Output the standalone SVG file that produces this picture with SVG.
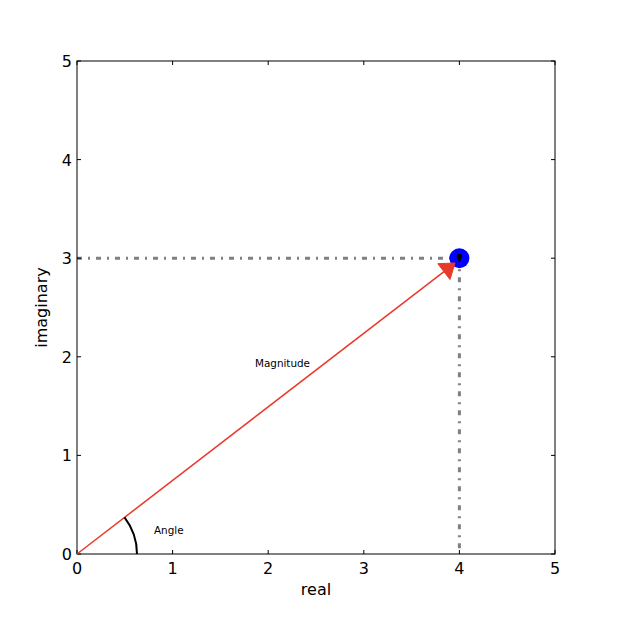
<svg xmlns="http://www.w3.org/2000/svg" width="617" height="617" viewBox="0 0 617 617">
<style>
  .tick { stroke:#000; stroke-width:1; fill:none; }
  .tl { font-family:"DejaVu Sans", sans-serif; font-size:16px; fill:#000; }
  .small { font-family:"DejaVu Sans", sans-serif; font-size:10.4px; fill:#000; }
  .guide { stroke:#808080; stroke-width:3; stroke-dasharray:5 6 2 6; fill:none; }
</style>
<rect x="0" y="0" width="617" height="617" fill="#fff"/>
<g id="guides">
  <line class="guide" x1="77" y1="258.2" x2="459.4" y2="258.2"/>
  <line class="guide" x1="459.4" y1="258.2" x2="459.4" y2="554"/>
</g>
<g id="axes">
  <rect x="77" y="61" width="478" height="493" fill="none" stroke="#000" stroke-width="1"/>
  <path class="tick" d="M77,554v-4 M172.6,554v-4 M268.2,554v-4 M363.8,554v-4 M459.4,554v-4 M555,554v-4
    M77,61v4 M172.6,61v4 M268.2,61v4 M363.8,61v4 M459.4,61v4 M555,61v4
    M77,554h4 M77,455.4h4 M77,356.8h4 M77,258.2h4 M77,159.6h4 M77,61h4
    M555,554h-4 M555,455.4h-4 M555,356.8h-4 M555,258.2h-4 M555,159.6h-4 M555,61h-4"/>
  <g class="tl" text-anchor="middle">
    <text x="77" y="573.5">0</text>
    <text x="172.6" y="573.5">1</text>
    <text x="268.2" y="573.5">2</text>
    <text x="363.8" y="573.5">3</text>
    <text x="459.4" y="573.5">4</text>
    <text x="555" y="573.5">5</text>
  </g>
  <g class="tl" text-anchor="end">
    <text x="72" y="560">0</text>
    <text x="72" y="461.4">1</text>
    <text x="72" y="362.8">2</text>
    <text x="72" y="264.2">3</text>
    <text x="72" y="165.6">4</text>
    <text x="72" y="67">5</text>
  </g>
  <text class="tl" x="316" y="595" text-anchor="middle">real</text>
  <text class="tl" transform="translate(47,307.5) rotate(-90)" text-anchor="middle">imaginary</text>
</g>
<g id="point">
  <circle cx="459.4" cy="258.2" r="10" fill="#0000ff"/>
  <path d="M456.6,256.5 a2.8,2.8 0 0 1 5.6,0 L459.4,263 Z" fill="#000"/>
</g>
<g id="magnitude-arrow">
  <line x1="77" y1="554" x2="444" y2="271.6" stroke="#e8392a" stroke-width="1.5"/>
  <polygon points="455,263 437.8,263.7 450,279.5" fill="#e8392a" stroke="#e8392a" stroke-width="1"/>
</g>
<g id="angle-arc">
  <path d="M137,554 A60,60 0 0 0 124.5,517.3" fill="none" stroke="#000" stroke-width="2"/>
</g>
<g id="labels">
  <text class="small" x="154" y="533.5">Angle</text>
  <text class="small" x="282.5" y="367" text-anchor="middle">Magnitude</text>
</g>
</svg>
